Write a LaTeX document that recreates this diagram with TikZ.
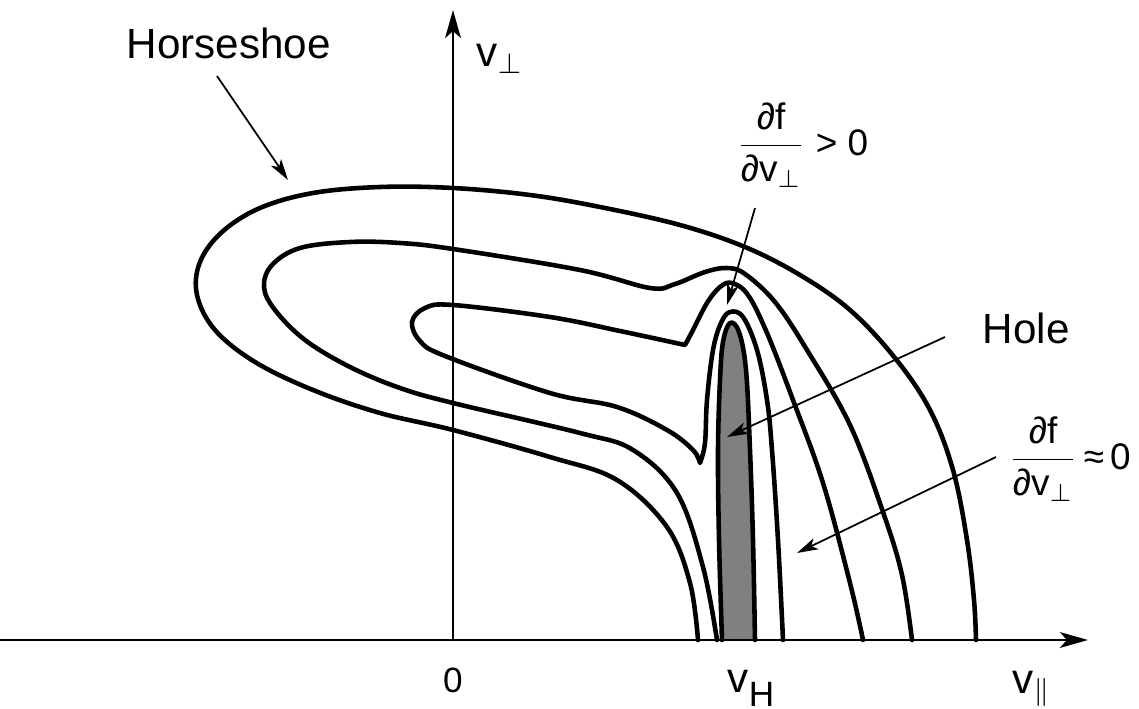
\documentclass[tikz,border=0pt]{standalone}
\usepackage{amsmath}
\usepackage{fontspec}
\setmainfont{Liberation Sans}
\usetikzlibrary{arrows.meta}

\definecolor{holegray}{RGB}{128,128,128}
\newcommand{\dfdvperp}{\ensuremath{\dfrac{\text{∂f}}{\text{∂v}_{\perp}}}}

\tikzset{
  contour/.style={line width=1.3pt, line join=round, line cap=round},
  axisline/.style={line width=0.6pt, -{Stealth[length=8pt, width=4.5pt, inset=2pt]}},
  leader/.style={line width=0.5pt, -{Stealth[length=6pt, width=3.4pt, inset=1.5pt]}},
  lbl/.style={inner sep=0pt, font=\fontsize{12}{14}\selectfont},
  ticklbl/.style={inner sep=0pt, font=\fontsize{10}{12}\selectfont},
  fraclbl/.style={inner sep=0pt, font=\fontsize{10.5}{12}\selectfont},
}

\begin{document}
\begin{tikzpicture}[x=0.01cm, y=-0.01cm]
  \useasboundingbox (0,0) rectangle (1139,709);

  % axes
  \coordinate (O) at (453,640);
  \coordinate (xstart) at (0,640);
  \coordinate (xend) at (1088,640);
  \coordinate (yend) at (453,10);

  % hole (shaded)
  \draw[contour, fill=holegray] plot[smooth, tension=0.6] coordinates {
    (722,640) (719,540) (718,450) (720,380) (723,342) (730,323)
    (739,332) (746,370) (750,450) (753,540) (755,640)};

  % outer contour
  \draw[contour] plot[smooth, tension=0.6] coordinates {
    (698,640) (690,583) (667,527) (617,480) (550,457) (453,430)
    (380,413) (313,390) (255,362) (215,330) (197,295) (200,262)
    (222,232) (260,208) (313,193) (380,187) (453,188) (530,195)
    (600,207) (680,225) (745,247) (800,275) (850,310) (895,358)
    (930,410) (953,470) (967,540) (974,600) (976,640)};

  % middle contour
  \draw[contour] plot[smooth, tension=0.6] coordinates {
    (717,640) (703,567) (677,493) (633,450) (580,433) (453,403)
    (400,388) (350,367) (305,340) (275,310) (264,287) (272,265)
    (300,248) (350,242) (400,243) (453,249) (580,270) (650,288)
    (675,284) (705,272) (727,268) (745,274) (775,302) (807,350)
    (850,425) (883,512) (902,575) (912,640)};

  % inner contour
  \draw[contour] plot[smooth, tension=0.6] coordinates {
    (863,640) (850,583) (823,483) (793,400) (767,333) (748,295)
    (732,283) (720,287) (707,303) (693,330) (685,345)}
    -- plot[smooth, tension=0.6] coordinates {
    (685,345) (620,331) (550,317) (453,305) (425,308) (412,322)
    (420,341) (445,356) (550,393) (617,407) (667,430) (693,450)
    (700,463)}
    -- plot[smooth, tension=0.6] coordinates {
    (700,463) (705,443) (707,400) (713,350) (721,323) (730,312)
    (743,317) (757,350) (767,400) (772,450) (778,540) (783,640)};

  \draw[axisline] (xstart) -- (xend);
  \draw[axisline] (O) -- (yend);

  % labels
  \node[lbl, anchor=base west] (horseshoe) at (126,58) {Horseshoe};
  \node[lbl, anchor=base west] (hole) at (982,343) {Hole};
  \node[lbl, anchor=base west] (vperp) at (476,67) {v$_\perp$};
  \node[ticklbl, anchor=base] (zero) at (453,692) {0};
  \node[lbl, anchor=base west] (vh) at (727,692)
    {v\raisebox{-4.2pt}{\fontsize{10}{12}\selectfont H}};
  \node[lbl, anchor=base west] (vpar) at (1012,693) {v$_\parallel$};
  \node[fraclbl, anchor=west] (dfpos) at (736,145) {\dfdvperp\ > 0};
  \node[fraclbl, anchor=west] (dfzero) at (1008,459) {\dfdvperp\,≈\,0};

  % leader arrows
  \coordinate (hs-tail) at (217,76);
  \coordinate (hs-tip) at (288,180);
  \coordinate (pos-tail) at (755,208);
  \coordinate (pos-tip) at (727,305);
  \coordinate (hole-tail) at (945,337);
  \coordinate (hole-tip) at (727,437);
  \coordinate (zero-tail) at (996,457);
  \coordinate (zero-tip) at (797,553);
  \draw[leader] (hs-tail) -- (hs-tip);
  \draw[leader] (pos-tail) -- (pos-tip);
  \draw[leader] (hole-tail) -- (hole-tip);
  \draw[leader] (zero-tail) -- (zero-tip);
\end{tikzpicture}
\end{document}
